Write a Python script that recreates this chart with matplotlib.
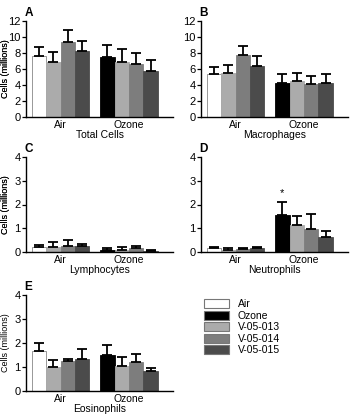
import matplotlib
matplotlib.use("Agg")
import matplotlib.pyplot as plt
from matplotlib.patches import Patch

groups = ["Air", "Ozone"]
series = ["Air", "Ozone", "V-05-013", "V-05-014", "V-05-015"]
colors = {"Air": "#ffffff", "Ozone": "#000000", "V-05-013": "#ababab",
          "V-05-014": "#7d7d7d", "V-05-015": "#4b4b4b"}

# bar order within each group: first bar is the group's own control
air_series = ["Air", "V-05-013", "V-05-014", "V-05-015"]
ozone_series = ["Ozone", "V-05-013", "V-05-014", "V-05-015"]

panels = ["A", "B", "C", "D", "E"]
titles = ["Total Cells", "Macrophages", "Lymphocytes", "Neutrophils", "Eosinophils"]
ymax = [12, 12, 4, 4, 4]
yticks = [[0, 2, 4, 6, 8, 10, 12], [0, 2, 4, 6, 8, 10, 12],
          [0, 1, 2, 3, 4], [0, 1, 2, 3, 4], [0, 1, 2, 3, 4]]

# means (air group, ozone group)
air_mean = [
    [7.6, 6.9, 9.4, 8.2],
    [5.4, 5.5, 7.7, 6.4],
    [0.22, 0.20, 0.25, 0.25],
    [0.18, 0.10, 0.13, 0.15],
    [1.68, 1.02, 1.25, 1.32],
]
air_err = [
    [1.2, 1.2, 1.5, 1.3],
    [0.9, 1.0, 1.2, 1.2],
    [0.06, 0.20, 0.25, 0.08],
    [0.04, 0.05, 0.05, 0.07],
    [0.32, 0.26, 0.10, 0.41],
]
ozone_mean = [
    [7.5, 6.9, 6.6, 5.8],
    [4.3, 4.5, 4.1, 4.2],
    [0.10, 0.10, 0.15, 0.05],
    [1.55, 1.12, 0.98, 0.65],
    [1.48, 1.05, 1.22, 0.85],
]
ozone_err = [
    [1.5, 1.6, 1.4, 1.3],
    [1.1, 1.0, 1.0, 1.2],
    [0.05, 0.12, 0.12, 0.03],
    [0.55, 0.38, 0.62, 0.25],
    [0.42, 0.35, 0.31, 0.12],
]
star_panel = "D"

W, H = 351, 416
fig = plt.figure(figsize=(W / 100, H / 100), dpi=100)
plt.rcParams['font.family'] = ['Liberation Sans', 'DejaVu Sans']

# axes boxes in pixels: left, top(of ymax), right, bottom(y=0)
boxes = [(26, 21, 173, 117), (201, 21, 348, 117),
         (26, 157, 173, 252), (201, 157, 348, 252),
         (26, 295, 173, 391)]

air_x = [0, 1, 2, 3]
ozone_x = [4.75, 5.75, 6.75, 7.75]

for i, p in enumerate(panels):
    l, t, r, b = boxes[i]
    ax = fig.add_axes([l / W, 1 - b / H, (r - l) / W, (b - t) / H])
    for xs, names, m, e in [(air_x, air_series, air_mean[i], air_err[i]),
                            (ozone_x, ozone_series, ozone_mean[i], ozone_err[i])]:
        for x, n, v, er in zip(xs, names, m, e):
            ax.bar(x, v, width=1.0, color=colors[n],
                   edgecolor="#888888" if n == "Air" else colors[n], linewidth=0.6)
            ax.errorbar(x, v, yerr=[[0], [er]], fmt="none", ecolor="black",
                        elinewidth=1.3, capsize=3.5, capthick=1.3)
    if p == star_panel:
        ax.text(ozone_x[0], ozone_mean[i][0] + ozone_err[i][0] + 0.15, "*",
                ha="center", va="bottom", fontsize=8)
    ax.set_xlim(-0.9, 9.3)
    ax.set_ylim(0, ymax[i])
    ax.set_yticks(yticks[i])
    ax.set_xticks([1.5, 6.25])
    ax.set_xticklabels(groups)
    ax.tick_params(axis="x", length=0, labelsize=7.5, pad=2)
    ax.tick_params(axis="y", length=3, width=0.9, labelsize=8, pad=1)
    ax.spines["top"].set_visible(False)
    ax.spines["right"].set_visible(False)
    ax.spines["left"].set_linewidth(1)
    ax.spines["bottom"].set_linewidth(1)
    ax.set_ylabel("Cells (millions)", fontsize=6.5)
    ax.yaxis.set_label_coords(-(l - 10) / (r - l), 0.5)
    ax.set_xlabel(titles[i], fontsize=7.5, labelpad=0)
    ax.text(-0.01, 1.02, p, transform=ax.transAxes, fontsize=8.5,
            fontweight="bold", ha="left", va="bottom")

handles = [Patch(facecolor=colors[s], edgecolor="#777777", linewidth=0.8) for s in series]
fig.legend(handles, series, loc="upper left", bbox_to_anchor=(200 / W, 1 - 295 / H),
           frameon=False, fontsize=7.5, handlelength=2.4, handleheight=1.0,
           labelspacing=0.12, handletextpad=0.8, borderaxespad=0)

fig.savefig("out.png", dpi=100)
